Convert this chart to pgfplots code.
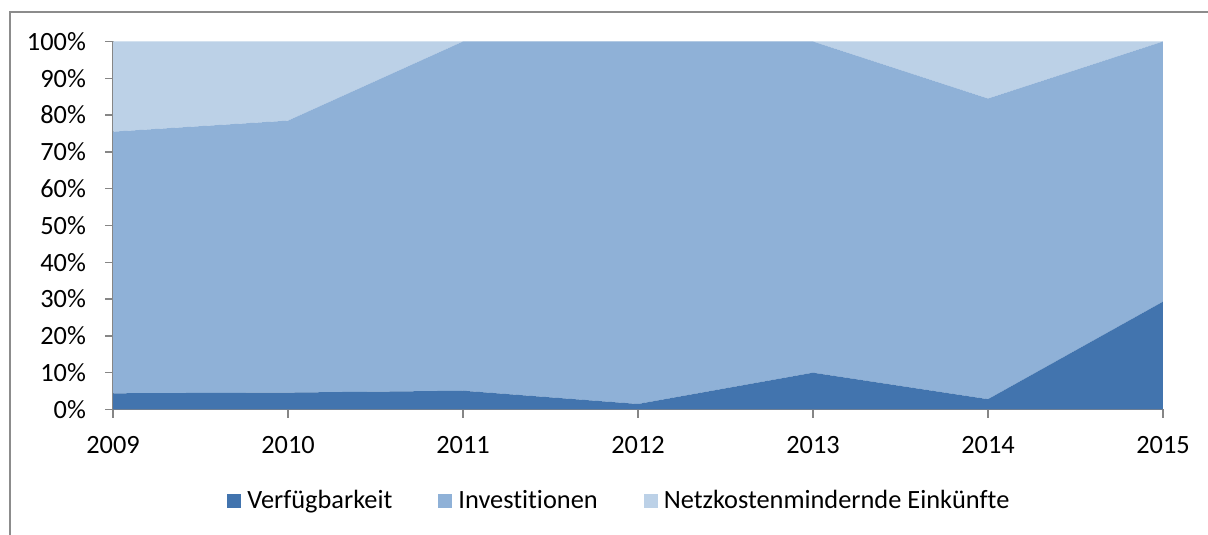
\documentclass[border=0pt]{standalone}
\usepackage{pgfplots}
\pgfplotsset{compat=1.18}
\usepackage{fontspec}
\setmainfont{Carlito}[Ligatures=NoCommon]
\definecolor{cdark}{HTML}{4274AE}
\definecolor{cmid}{HTML}{8FB1D7}
\definecolor{clight}{HTML}{BCD1E7}
\definecolor{axgray}{HTML}{868686}
\definecolor{framegray}{HTML}{8C8C8C}
\begin{document}
\fontsize{15pt}{17pt}\selectfont
\begin{tikzpicture}
\path[use as bounding box] (0,0) rectangle (24.16cm,10.68cm);
\draw[framegray, line width=1.1pt] (0.2cm,-0.1cm) -- (0.2cm,10.44cm) -- (24.3cm,10.44cm);
\begin{axis}[
  at={(2.26cm,2.49cm)}, anchor=south west,
  scale only axis, width=21cm, height=7.36cm,
  xmin=2009, xmax=2015, ymin=0, ymax=100,
  stack plots=y,
  axis x line*=bottom, axis y line*=left,
  axis line style={axgray, line width=0.8pt},
  tick style={axgray, line width=0.8pt},
  tick align=outside, major tick length=0.16cm,
  xtick={2009,2010,2011,2012,2013,2014,2015},
  xticklabels={2009,2010,2011,2012,2013,2014,2015},
  ytick={0,10,20,30,40,50,60,70,80,90,100},
  yticklabels={0\%,10\%,20\%,30\%,40\%,50\%,60\%,70\%,80\%,90\%,100\%},
  ticklabel style={font=\fontsize{15pt}{17pt}\selectfont, text=black},
  xticklabel style={yshift=-0.2cm},
  yticklabel style={xshift=-0.2cm},
  legend style={at={(0.483,-0.249)}, anchor=center, draw=none, fill=none,
    legend columns=-1, font=\fontsize{15pt}{17pt}\selectfont,
    /tikz/every even column/.append style={column sep=0.85cm},
    /tikz/every odd column/.append style={column sep=0.05cm},
    legend cell align=left},
  legend image code/.code={\fill[#1] (0cm,-0.14cm) rectangle (0.28cm,0.14cm);},
]
\addplot[fill=cdark, draw=none] coordinates {(2009,4.4) (2010,4.6) (2011,5.1) (2012,1.5) (2013,10.0) (2014,2.8) (2015,29.3)} \closedcycle;
\addplot[fill=cmid, draw=none] coordinates {(2009,71.1) (2010,73.9) (2011,94.9) (2012,98.5) (2013,90.0) (2014,81.7) (2015,70.7)} \closedcycle;
\addplot[fill=clight, draw=none] coordinates {(2009,24.5) (2010,21.5) (2011,0) (2012,0) (2013,0) (2014,15.5) (2015,0)} \closedcycle;
\legend{Verfügbarkeit, Investitionen, Netzkostenmindernde Einkünfte}
\end{axis}
\end{tikzpicture}
\end{document}
